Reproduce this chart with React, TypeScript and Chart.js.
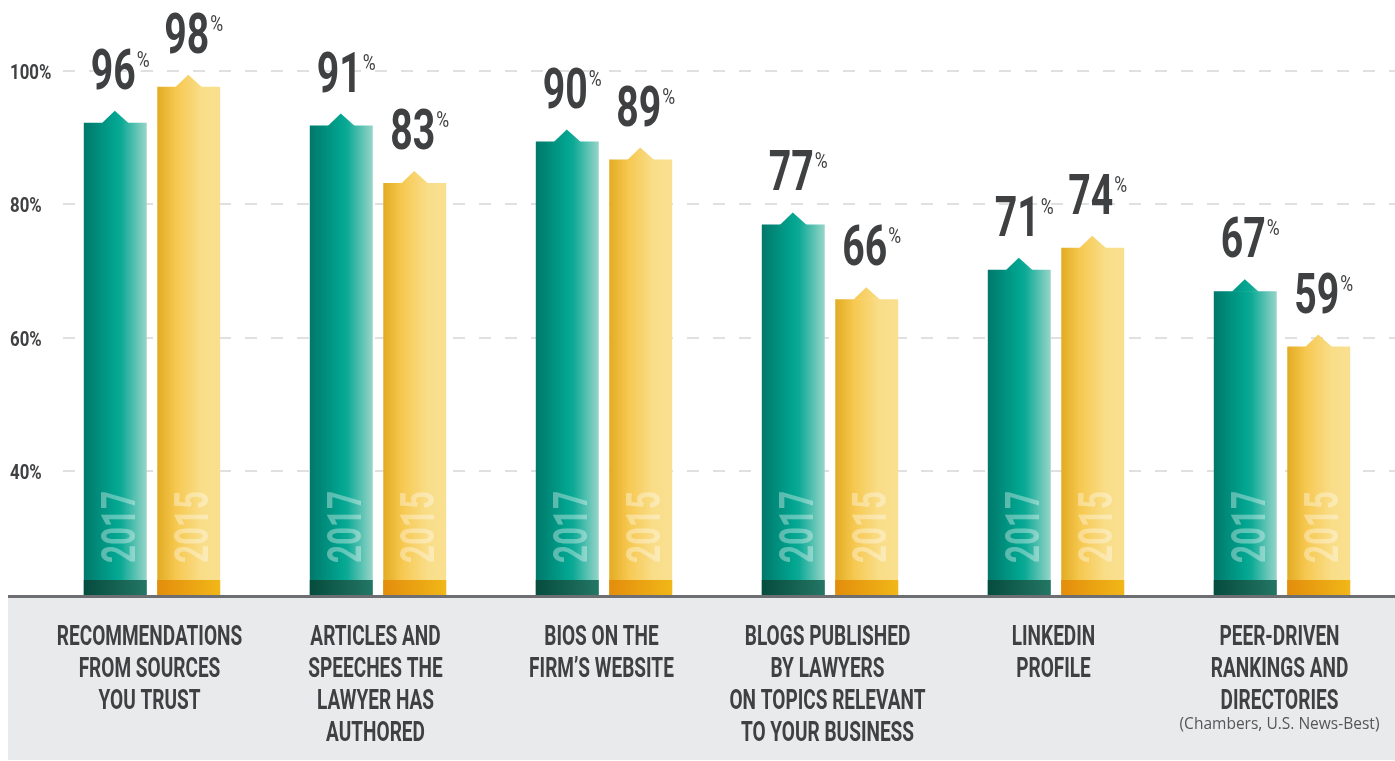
import React, { useEffect, useRef } from "react";
import { Chart, registerables } from "chart.js";

Chart.register(...registerables);

// ---------- data ----------
const categories: string[][] = [
  ["RECOMMENDATIONS", "FROM SOURCES", "YOU TRUST"],
  ["ARTICLES AND", "SPEECHES THE", "LAWYER HAS", "AUTHORED"],
  ["BIOS ON THE", "FIRM’S WEBSITE"],
  ["BLOGS PUBLISHED", "BY LAWYERS", "ON TOPICS RELEVANT", "TO YOUR BUSINESS"],
  ["LINKEDIN", "PROFILE"],
  ["PEER-DRIVEN", "RANKINGS AND", "DIRECTORIES"],
];
const categoryNotes = ["", "", "", "", "", "(Chambers, U.S. News-Best)"];
const seriesNames = ["2017", "2015"];
// bar heights as drawn in the picture
const bars2017 = [92.2, 91.8, 89.4, 77.0, 70.2, 67.0];
const bars2015 = [97.6, 83.2, 86.7, 65.8, 73.5, 58.7];
// printed value labels
const labels2017 = [96, 91, 90, 77, 71, 67];
const labels2015 = [98, 83, 89, 66, 74, 59];
const yTicks = [40, 60, 80, 100];

// ---------- styles ----------
const tealStops: [number, string][] = [
  [0, "#00786a"],
  [0.5, "#01a590"],
  [0.6, "#0eaa96"],
  [1, "#97d5c9"],
];
const yellowStops: [number, string][] = [
  [0, "#e2ab22"],
  [0.3, "#f6c850"],
  [0.7, "#f9dd88"],
  [1, "#f9e091"],
];
const tealBase: [number, string][] = [
  [0, "#054c3d"],
  [1, "#247664"],
];
const yellowBase: [number, string][] = [
  [0, "#e38d0c"],
  [1, "#f1b718"],
];
const TEXT = "#3f4042";
const CAT_PCT = 0.65;
const BAR_PCT = 0.857;

function grad(ctx: CanvasRenderingContext2D, l: number, r: number, stops: [number, string][]) {
  const g = ctx.createLinearGradient(l, 0, r, 0);
  stops.forEach(([o, c]) => g.addColorStop(o, c));
  return g;
}

function drawText(
  ctx: CanvasRenderingContext2D,
  text: string,
  x: number,
  y: number,
  font: string,
  sx: number,
  align: "left" | "center" | "right"
) {
  ctx.save();
  ctx.font = font;
  ctx.textAlign = "left";
  ctx.textBaseline = "alphabetic";
  const w = ctx.measureText(text).width * sx;
  const left = align === "center" ? x - w / 2 : align === "right" ? x - w : x;
  ctx.translate(left, y);
  ctx.scale(sx, 1);
  ctx.fillText(text, 0, 0);
  ctx.restore();
  return { left, right: left + w };
}

function scriptedFill(stops: [number, string][]) {
  return (c: any) => {
    const chart = c.chart;
    const xs = chart.scales && chart.scales.x;
    if (!xs || c.dataIndex == null || !chart.ctx) return stops[1][1];
    const n = chart.data.datasets.length;
    const cw = (xs.right - xs.left) / chart.data.labels.length;
    const slot = (cw * CAT_PCT) / n;
    const center = xs.getPixelForValue(c.dataIndex) + (c.datasetIndex - (n - 1) / 2) * slot;
    const half = (slot * BAR_PCT) / 2;
    if (!isFinite(center) || !isFinite(half) || half <= 0) return stops[1][1];
    return grad(chart.ctx, center - half, center + half, stops);
  };
}

const decorPlugin = {
  id: "decor",
  beforeDraw(chart: any) {
    const { ctx, width, height, chartArea } = chart;
    ctx.save();
    ctx.fillStyle = "#ffffff";
    ctx.fillRect(0, 0, width, height);
    ctx.fillStyle = "#e9eaec";
    ctx.fillRect(8, chartArea.bottom, width - 8, height - chartArea.bottom - 1);
    ctx.restore();
  },
  beforeDatasetsDraw(chart: any) {
    const { ctx, scales } = chart;
    const ys = scales.y;
    ctx.save();
    ctx.strokeStyle = "#e0e0e0";
    ctx.lineWidth = 2;
    ctx.setLineDash([12, 14]);
    yTicks.forEach((t) => {
      const y = Math.round(ys.getPixelForValue(t));
      ctx.beginPath();
      ctx.moveTo(63, y);
      ctx.lineTo(chart.width, y);
      ctx.stroke();
      ctx.fillStyle = TEXT;
      drawText(ctx, `${t}%`, 10, y + 7.5, "bold 21px Roboto", 0.8, "left");
    });
    ctx.restore();
  },
  afterDatasetsDraw(chart: any) {
    const { ctx, chartArea } = chart;
    const labelSets = [labels2017, labels2015];
    const fills = [tealStops, yellowStops];
    const bases = [tealBase, yellowBase];
    const base = chartArea.bottom;
    ctx.save();
    chart.data.datasets.forEach((_ds: any, di: number) => {
      const meta = chart.getDatasetMeta(di);
      meta.data.forEach((el: any, i: number) => {
        const { x, y, width } = el.getProps(["x", "y", "width"], true);
        const l = x - width / 2;
        const r = x + width / 2;
        // roof
        ctx.fillStyle = grad(ctx, l, r, fills[di]);
        ctx.beginPath();
        ctx.moveTo(x - 13.5, y + 0.5);
        ctx.lineTo(x - 0.5, y - 12);
        ctx.lineTo(x + 13.5, y + 0.5);
        ctx.closePath();
        ctx.fill();
        // dark foot
        ctx.fillStyle = grad(ctx, l, r, bases[di]);
        ctx.fillRect(l, base - 15, width, 15);
        // year text
        ctx.save();
        ctx.translate(x + 19.5, base - 32);
        ctx.rotate(-Math.PI / 2);
        ctx.fillStyle = "rgba(255,255,255,0.36)";
        drawText(ctx, seriesNames[di], 0, 0, "bold 49px Roboto", 0.64, "left");
        ctx.restore();
        // value label
        ctx.fillStyle = TEXT;
        const b = y - 34;
        const m = drawText(ctx, String(labelSets[di][i]), x - 2, b, "bold 56px Roboto", 0.7, "center");
        drawText(ctx, "%", m.right + 1, b - 22, "400 22px Roboto", 0.8, "left");
      });
    });
    // axis line
    ctx.fillStyle = "#6d6e71";
    ctx.fillRect(8, chartArea.bottom, chart.width - 8, 3);
    // category labels
    const xs = chart.scales.x;
    categories.forEach((lines, i) => {
      const cx = xs.getPixelForValue(i) - 2.5;
      ctx.fillStyle = TEXT;
      lines.forEach((line, k) => {
        drawText(ctx, line, cx, 645 + k * 32, "bold 28px Roboto", 0.68, "center");
      });
      if (categoryNotes[i]) {
        ctx.fillStyle = "#555658";
        drawText(ctx, categoryNotes[i], cx, 645 + lines.length * 32 - 12, "16px 'Open Sans'", 0.97, "center");
      }
    });
    ctx.restore();
  },
};

export default function App() {
  const ref = useRef<HTMLCanvasElement | null>(null);
  useEffect(() => {
    if (!ref.current) return;
    const chart = new Chart(ref.current, {
      type: "bar",
      data: {
        labels: categories.map((c) => c.join(" ")),
        datasets: [
          {
            label: seriesNames[0],
            data: bars2017,
            backgroundColor: scriptedFill(tealStops),
            borderWidth: 0,
            categoryPercentage: CAT_PCT,
            barPercentage: BAR_PCT,
          },
          {
            label: seriesNames[1],
            data: bars2015,
            backgroundColor: scriptedFill(yellowStops),
            borderWidth: 0,
            categoryPercentage: CAT_PCT,
            barPercentage: BAR_PCT,
          },
        ],
      },
      options: {
        responsive: false,
        animation: false,
        events: [],
        layout: { padding: { left: 39, right: 0, top: 0, bottom: 166 } },
        plugins: { legend: { display: false }, tooltip: { enabled: false }, title: { display: false } },
        scales: {
          x: { display: false, offset: true },
          y: { display: false, min: 21.5, max: 110.6 },
        },
      },
      plugins: [decorPlugin],
    });
    return () => chart.destroy();
  }, []);
  return (
    <div style={{ position: "fixed", left: 0, top: 0, width: 1395, height: 761, background: "#fff" }}>
      <canvas ref={ref} width={1395} height={761} style={{ display: "block" }} />
    </div>
  );
}
